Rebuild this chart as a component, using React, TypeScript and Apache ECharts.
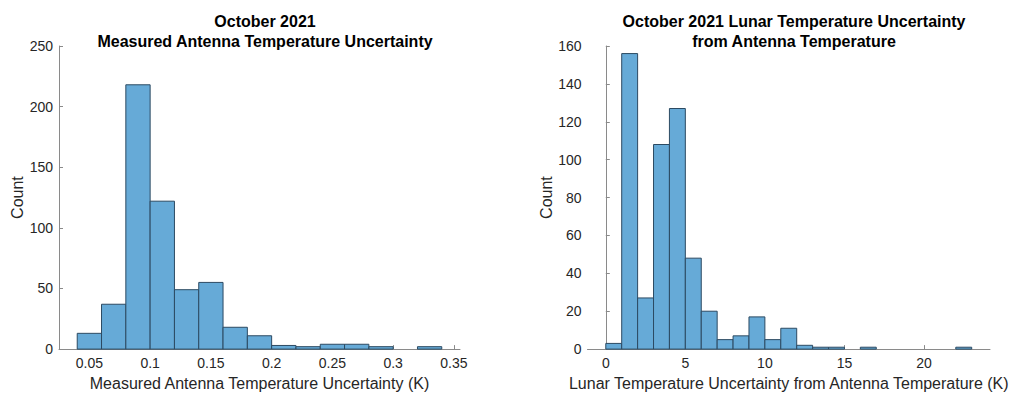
import React, { useEffect, useRef } from "react";
import * as echarts from "echarts";

// Measured antenna temperature uncertainty histogram (bin width 0.02 K)
const antennaBinEdges = [0.04, 0.06, 0.08, 0.1, 0.12, 0.14, 0.16, 0.18, 0.2, 0.22, 0.24, 0.26, 0.28, 0.3, 0.32, 0.34];
const antennaCounts = [13, 37, 218, 122, 49, 55, 18, 11, 3, 2, 4, 4, 2, 0, 2];
const antennaTicks = [0.05, 0.1, 0.15, 0.2, 0.25, 0.3, 0.35];

// Lunar temperature uncertainty histogram (bin width 1 K)
const lunarBinEdges = [0, 1, 2, 3, 4, 5, 6, 7, 8, 9, 10, 11, 12, 13, 14, 15, 16, 17, 18, 19, 20, 21, 22, 23];
const lunarCounts = [3, 156, 27, 108, 127, 48, 20, 5, 7, 17, 5, 11, 2, 1, 1, 0, 1, 0, 0, 0, 0, 0, 1];
const lunarTicks = [0, 5, 10, 15, 20];

const FACE = "#66aad7";
const EDGE = "#2c4a62";
const TEXT = "#262626";
const AXIS = "#8a8a8a";
const FONT = "'Liberation Sans', Arial, Helvetica, sans-serif";

function toBins(edges: number[], counts: number[]) {
  return counts.map((c, i) => [edges[i], edges[i + 1], c]);
}

function histRender(params: any, api: any) {
  const x0 = api.value(0);
  const x1 = api.value(1);
  const c = api.value(2);
  if (!c) return null;
  const top = api.coord([x0, c]);
  const base = api.coord([x1, 0]);
  return {
    type: "rect",
    shape: { x: top[0], y: top[1], width: base[0] - top[0], height: base[1] - top[1] },
    style: { fill: FACE, stroke: EDGE, lineWidth: 1 },
  };
}

function xAxisOf(gridIndex: number, min: number, max: number, ticks: number[], name: string) {
  return {
    type: "value",
    gridIndex,
    min,
    max,
    name,
    nameLocation: "middle",
    nameGap: 25,
    nameTextStyle: { fontSize: 16, color: TEXT, fontFamily: FONT },
    splitLine: { show: false },
    axisLine: { show: true, lineStyle: { color: AXIS, width: 1 } },
    axisTick: { show: true, inside: true, length: 4, customValues: ticks, lineStyle: { color: AXIS } },
    axisLabel: { customValues: ticks, fontSize: 14, color: TEXT, fontFamily: FONT, margin: 7 },
  };
}

function yAxisOf(gridIndex: number, max: number, interval: number) {
  return {
    type: "value",
    gridIndex,
    min: 0,
    max,
    interval,
    name: "Count",
    nameLocation: "middle",
    nameGap: 33,
    nameTextStyle: { fontSize: 16, color: TEXT, fontFamily: FONT },
    splitLine: { show: false },
    axisLine: { show: true, lineStyle: { color: AXIS, width: 1 } },
    axisTick: { show: true, inside: true, length: 4, lineStyle: { color: AXIS } },
    axisLabel: { fontSize: 14, color: TEXT, fontFamily: FONT, margin: 6 },
  };
}

export default function App() {
  const ref = useRef<HTMLDivElement>(null);

  useEffect(() => {
    if (!ref.current) return;
    const chart = echarts.init(ref.current, null, { renderer: "svg" });
    const titleStyle = { fontSize: 16, fontWeight: "bold", color: "#000", fontFamily: FONT, lineHeight: 20 };
    chart.setOption({
      animation: false,
      backgroundColor: "#fff",
      title: [
        {
          text: "October 2021\nMeasured Antenna Temperature Uncertainty",
          left: 260,
          top: 6,
          textAlign: "center",
          textStyle: titleStyle,
        },
        {
          text: "October 2021 Lunar Temperature Uncertainty\nfrom Antenna Temperature",
          left: 789,
          top: 6,
          textAlign: "center",
          textStyle: titleStyle,
        },
      ],
      grid: [
        { left: 59, top: 46, width: 401, height: 305 },
        { left: 587.5, top: 46, width: 402.5, height: 305 },
      ],
      xAxis: [
        xAxisOf(0, 0.025, 0.355, antennaTicks, "Measured Antenna Temperature Uncertainty (K)"),
        xAxisOf(1, -1.15, 24.15, lunarTicks, "Lunar Temperature Uncertainty from Antenna Temperature (K)"),
      ],
      yAxis: [yAxisOf(0, 250, 50), yAxisOf(1, 160, 20)],
      series: [
        {
          type: "custom",
          xAxisIndex: 0,
          yAxisIndex: 0,
          renderItem: histRender,
          encode: { x: [0, 1], y: 2 },
          data: toBins(antennaBinEdges, antennaCounts),
        },
        {
          type: "custom",
          xAxisIndex: 1,
          yAxisIndex: 1,
          renderItem: histRender,
          encode: { x: [0, 1], y: 2 },
          data: toBins(lunarBinEdges, lunarCounts),
        },
      ],
    });
    return () => chart.dispose();
  }, []);

  return (
    <div
      ref={ref}
      style={{ position: "fixed", left: 0, top: 0, width: 1016, height: 396, background: "#fff" }}
    />
  );
}
